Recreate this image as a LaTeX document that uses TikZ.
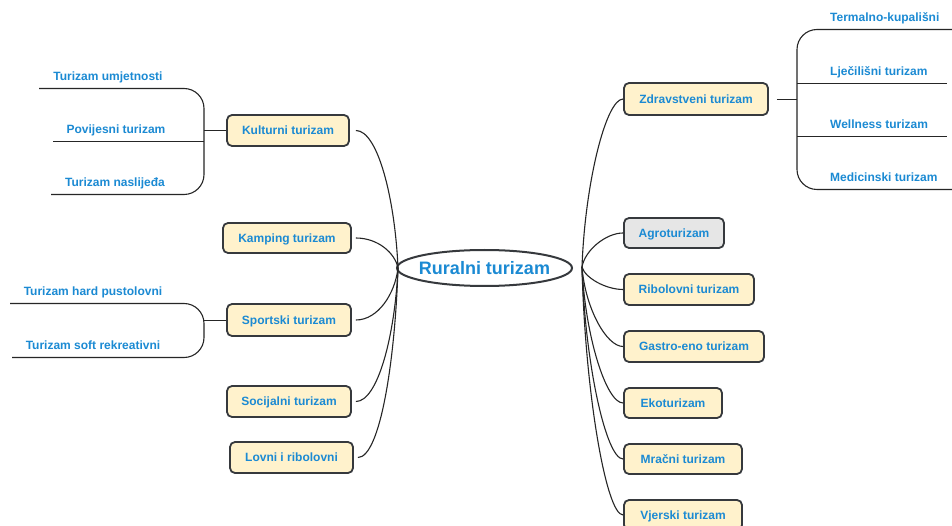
\documentclass[tikz,border=0pt]{standalone}
\usepackage{fontspec}
\setmainfont{Liberation Sans}
\definecolor{txtblue}{HTML}{1B8AD3}
\definecolor{boxfill}{HTML}{FFF2CC}
\definecolor{boxgray}{HTML}{E6E6E6}
\definecolor{boxline}{HTML}{36393D}
\begin{document}
\begin{tikzpicture}[x=1pt,y=-1pt,
  topic/.style={draw=boxline,line width=1.8pt,fill=boxfill,rounded corners=5pt,
    font=\bfseries\fontsize{12}{14}\selectfont,text=txtblue,inner sep=0pt,
    text height=8.6pt,text depth=0pt,minimum height=31pt},
  lbl/.style={font=\bfseries\fontsize{12}{14}\selectfont,text=txtblue,inner sep=0pt,
    text height=8.6pt,text depth=0pt},
  conn/.style={line width=1.1pt,draw=black!85},
  brk/.style={line width=1.1pt,draw=black!85,rounded corners=20pt}]
\clip (0,0) rectangle (952,526);
\fill[white] (0,0) rectangle (952,526);

% central node
\node[inner sep=0pt,font=\bfseries\fontsize{18}{20}\selectfont,text=txtblue,
  text height=12.9pt,text depth=0pt] (c) at (484.5,268) {Ruralni turizam};
\draw[draw=boxline,line width=2pt] (c.center) ellipse [x radius=87.5pt,y radius=18pt];
\coordinate (cl) at (398,268);
\coordinate (cr) at (582,267);

% left topics
\node[topic,minimum width=122pt] (kult) at (288,130.5) {Kulturni turizam};
\node[topic,minimum width=128pt,minimum height=30pt] (kamp) at (287,238) {Kamping turizam};
\node[topic,minimum width=124pt,minimum height=32pt] (sport) at (289,320) {Sportski turizam};
\node[topic,minimum width=124pt] (soc) at (289,401.5) {Socijalni turizam};
\node[topic,minimum width=123pt] (lov) at (291.5,457.5) {Lovni i ribolovni};

% right topics
\node[topic,minimum width=144pt,minimum height=32pt] (zdr) at (696,99) {Zdravstveni turizam};
\node[topic,minimum width=100pt,minimum height=30pt,fill=boxgray] (agro) at (674,233) {Agroturizam};
\node[topic,minimum width=130pt] (rib) at (689,289.5) {Ribolovni turizam};
\node[topic,minimum width=140pt] (gas) at (694,346.5) {Gastro-eno turizam};
\node[topic,minimum width=98pt,minimum height=30pt] (eko) at (673,403) {Ekoturizam};
\node[topic,minimum width=118pt,minimum height=30pt] (mra) at (683,459) {Mračni turizam};
\node[topic,minimum width=118pt,minimum height=30pt] (vje) at (683,515) {Vjerski turizam};

% left connectors
\draw[conn] ([xshift=6pt]kult.east) .. controls +(22,0) and (395,199) .. (cl);
\draw[conn] ([xshift=4pt]kamp.east) .. controls +(22,0) and (395,253) .. (cl);
\draw[conn] ([xshift=4pt]sport.east) .. controls +(22,0) and (395,294) .. (cl);
\draw[conn] ([xshift=4pt]soc.east) .. controls +(22,0) and (395,335) .. (cl);
\draw[conn] ([xshift=4pt]lov.east) .. controls +(22,0) and (395,362) .. (cl);

% right connectors
\draw[conn] (cr) .. controls (585,183) and (606,99) .. (zdr.west);
\draw[conn] (cr) .. controls (585,250) and (606,233) .. (agro.west);
\draw[conn] (cr) .. controls (585,278) and (606,289.5) .. (rib.west);
\draw[conn] (cr) .. controls (585,307) and (606,346.5) .. (gas.west);
\draw[conn] (cr) .. controls (585,335) and (606,403) .. (eko.west);
\draw[conn] (cr) .. controls (585,363) and (606,459) .. (mra.west);
\draw[conn] (cr) .. controls (585,391) and (606,515) .. (vje.west);

% Kulturni bracket
\coordinate (kb) at (204,130.5);
\draw[conn] (kult.west) -- (kb);
\draw[brk] (39,88.5) -- (204,88.5) -- (204,194.5) -- (51,194.5);
\draw[conn] (53,141.5) -- (204,141.5);
\node[lbl] (k1) at (108,76.2) {Turizam umjetnosti};
\node[lbl] (k2) at (116,129.2) {Povijesni turizam};
\node[lbl] (k3) at (115,182.2) {Turizam naslijeđa};

% Sportski bracket
\coordinate (sb) at (204,320.5);
\draw[conn] (sport.west |- sb) -- (sb);
\draw[brk] (10,303.5) -- (204,303.5) -- (204,357.5) -- (12,357.5);
\node[lbl] (s1) at (93,291.2) {Turizam hard pustolovni};
\node[lbl] (s2) at (93,345.2) {Turizam soft rekreativni};

% Zdravstveni bracket
\coordinate (zb) at (797,99.5);
\draw[conn] ([xshift=8pt]zdr.east |- zb) -- (zb);
\draw[brk] (952,29.5) -- (797,29.5) -- (797,189.5) -- (952,189.5);
\draw[conn] (797,83.5) -- (947,83.5);
\draw[conn] (797,136.5) -- (947,136.5);
\node[lbl,anchor=west] (z1) at (830,17.7) {Termalno-kupališni};
\node[lbl,anchor=west] (z2) at (830,71.2) {Lječilišni turizam};
\node[lbl,anchor=west] (z3) at (830,124.2) {Wellness turizam};
\node[lbl,anchor=west] (z4) at (830,177.2) {Medicinski turizam};
\end{tikzpicture}
\end{document}
